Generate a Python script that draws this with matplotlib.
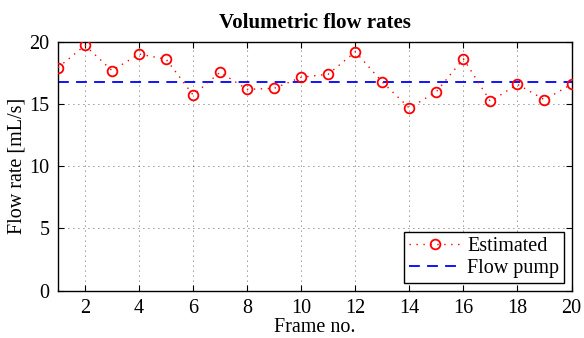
import matplotlib
matplotlib.use("Agg")
import matplotlib.pyplot as plt

frames = list(range(1, 21))
estimated = [17.94, 19.72, 17.70, 19.03, 18.62, 15.73, 17.57, 16.19, 16.27, 17.16,
             17.41, 19.21, 16.78, 14.68, 16.00, 18.65, 15.22, 16.60, 15.35, 16.60]
pump_rate = 16.76
xticks = [2, 4, 6, 8, 10, 12, 14, 16, 18, 20]
yticks = [0, 5, 10, 15, 20]

plt.rcParams['font.family'] = ['Liberation Serif', 'DejaVu Serif']
plt.rcParams['mathtext.fontset'] = 'stix'

fig = plt.figure(figsize=(5.84, 3.38), dpi=100)
ax = fig.add_axes([0.0993, 0.1405, 0.8793, 0.7352])

ax.plot(frames, estimated, linestyle=(0, (1, 4)), color='red', linewidth=1.0,
        marker='o', markersize=7, markerfacecolor='none', markeredgecolor='red',
        markeredgewidth=1.3, label='Estimated', zorder=3)
ax.axhline(pump_rate, color='blue', linestyle=(0, (6, 4)), linewidth=1.3,
           label='Flow pump', zorder=2)

ax.set_xlim(1, 20)
ax.set_ylim(0, 20)
ax.set_xticks(xticks)
ax.set_yticks(yticks)
ax.grid(True, linestyle=(0, (1, 5)), color='black', linewidth=0.6, alpha=0.8)
ax.tick_params(direction='in', top=True, right=True, length=4, width=0.8,
               labelsize=14.5, pad=6)
for s in ax.spines.values():
    s.set_linewidth(1.0)

ax.set_title('Volumetric flow rates', fontsize=15, fontweight='bold', pad=10)
ax.set_xlabel('Frame no.', fontsize=14.5, labelpad=0)
ax.set_ylabel('Flow rate [mL/s]', fontsize=14.5, labelpad=2)

leg = ax.legend(loc='lower right', fontsize=14.5, frameon=True, fancybox=False,
                edgecolor='black', framealpha=1, borderpad=0.25, labelspacing=0.15,
                handlelength=2.6, handletextpad=0.3, borderaxespad=0.35)
leg.get_frame().set_linewidth(1.0)

fig.savefig('out.png', dpi=100)
